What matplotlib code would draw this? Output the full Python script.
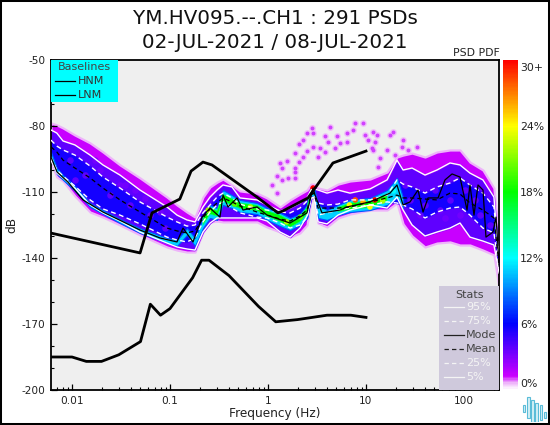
import numpy as np
import matplotlib
matplotlib.use("Agg")
import matplotlib.pyplot as plt
from matplotlib.colors import LinearSegmentedColormap, Normalize
from matplotlib.cm import ScalarMappable
from matplotlib.patches import Rectangle
from matplotlib.lines import Line2D

plt.rcParams["axes.unicode_minus"] = False

title_lines = ["YM.HV095.--.CH1 : 291 PSDs", "02-JUL-2021 / 08-JUL-2021"]
nan = float("nan")

freq = [0.0061,0.0070,0.0081,0.0107,0.0153,0.0207,0.0309,0.0494,0.0932,0.118,0.149,0.180,0.217,0.256,0.302,0.347,0.429,0.518,0.772,0.977,1.33,1.68,2.12,2.50,2.75,2.95,3.24,4.00,5.18,6.87,11.0,16.4,20.7,23.9,29.5,40.0,53.0,72.0,91.0,115,156,202,228]
p95 = [-81.8,-83.2,-86.8,-88.6,-93.2,-97.7,-102.3,-109.1,-116.8,-120.5,-122.7,-123.6,-116.8,-112.3,-109.1,-106.8,-107.7,-112.7,-113.6,-115.9,-118.6,-117.3,-115,-112.7,-109.1,-108.6,-109.1,-110.5,-109.1,-110.5,-108.6,-104.5,-95.5,-100,-99.1,-102.3,-100,-96.8,-97.7,-101.4,-104.5,-112.3,-142.3]
p75 = [-86.4,-89.1,-90.9,-93.2,-98.2,-103.2,-108.2,-114.5,-121.4,-123.6,-125.5,-125,-119.5,-115.9,-112.3,-110.5,-112.7,-115.5,-117.7,-118.2,-119.1,-119.5,-117.3,-114.1,-111.4,-111.4,-115,-115.9,-115.5,-113.6,-113.6,-111.4,-104.5,-106.4,-107.7,-110.5,-107.7,-105.9,-103.6,-106.8,-110.5,-116.8,-140]
mean = [-89.5,-91.8,-95.5,-99.1,-103.6,-108.2,-113.6,-119.1,-126.4,-127.7,-128.6,-127.7,-121.8,-117.7,-115,-112.7,-114.5,-116.4,-119.1,-120.5,-122.3,-123.2,-120.9,-118.2,-111.4,-110.5,-117.3,-117.3,-117.3,-116.8,-114.5,-112.7,-111.4,-112.7,-112.7,-113.2,-113.6,-110.5,-110.9,-115,-118.2,-121.8,-143.2]
p25 = [-94.1,-100,-102.7,-107.3,-113.6,-117.7,-120.5,-124.5,-130.5,-131.8,-132.7,-130.9,-123.6,-119.1,-115.9,-114.5,-117.3,-119.5,-121.4,-121.8,-124.1,-126.4,-125,-121.8,-112.7,-112.3,-120.5,-119.5,-118.2,-117.3,-115.9,-114.5,-115,-115.9,-117.7,-121.8,-119.1,-117.3,-116.8,-120.5,-126.4,-128.6,-144.5]
p5 = [-95.5,-101.4,-103.6,-108.2,-115.9,-119.5,-123.2,-128.2,-133.2,-135,-135.9,-136.4,-128.2,-124.1,-121.8,-121.8,-121.8,-121.8,-121.8,-123.2,-128.2,-130.5,-126.4,-120.9,-112.7,-112.7,-123.6,-124.5,-120.5,-118.2,-115.9,-117.3,-112.3,-118.2,-125,-130,-128.2,-126.4,-124.1,-130.5,-132.3,-134.1,-146.8]

pdf_top = [-78.6,-79.5,-80.9,-84.1,-87.7,-91.8,-97.7,-103.6,-112.3,-115.9,-119.1,-121.4,-112.3,-107.7,-105.5,-104.1,-106.8,-109.5,-110.5,-112.7,-116.8,-113.6,-110.9,-109.1,-106.4,-106.4,-108.2,-109.1,-106.4,-105,-104.1,-100.9,-94.1,-93.2,-92.3,-94.1,-91.8,-90.9,-90.9,-96.4,-100,-108.2,-131.8]
pdf_bottom = [-96.8,-103.2,-105,-111.8,-119.1,-121.4,-125,-129.5,-135,-136.4,-137.3,-137.3,-128.2,-123.6,-123.2,-123.6,-123.6,-123.6,-123.6,-125.9,-128.2,-130.5,-128.6,-125,-113.6,-113.6,-124.1,-125.9,-121.8,-120,-118.2,-118.2,-115,-124.5,-130,-135,-133.2,-132.7,-134.1,-134.1,-136.4,-138.6,-153.6]
ridge12_top = [-91.8,-99.1,-102.3,-107.3,-115,-118.2,-122.3,-126.4,-130.9,-131.8,-126.4,-130.9,-121.8,-115.9,-117.3,-109.1,-111.4,-113.6,-115,-117.3,-119.5,-121.8,-120,-115.9,-107.7,-107.7,-115.9,-118.2,-115.9,-113.6,-112.7,-109.1,-103.6,-112.7]+[nan]*9
ridge12_bottom = [-95.5,-101.8,-104.5,-109.5,-116.8,-120,-124.1,-128.6,-133.2,-134.5,-129.5,-134.5,-126.4,-121.8,-122.7,-115.9,-117.3,-119.1,-120,-122.7,-125.5,-127.3,-125,-121.8,-111.8,-112.3,-121.8,-122.7,-120.5,-119.1,-118.2,-115.9,-112.7,-117.3]+[nan]*9
ridge18_top = [nan]*12+[-122,-117,-118.5,-111,-113,-115,-116,-118.5,-120.5,-123,-121,-117,-108.5,-108.5,nan,nan,-117,-115,-114,-111]+[nan]*11
ridge18_bottom = [nan]*12+[-125,-120,-121,-114,-116,-117.5,-118.5,-121,-123.5,-126,-123.5,-120,-110.5,-111,nan,nan,-119,-118,-117,-114]+[nan]*11

hot_log10f = [.46,.89,.97,.83,1.09,1.17,1.04,-.61,-.18,.19,.33,-.34,1.28]
hot_db = [-108.2,-113.6,-114.5,-115.9,-113.6,-114.1,-116.8,-118.2,-116.8,-123.6,-121.4,-115.5,-109.5]
hot_pct = [30,28,26,24,30,22,24,22,22,22,20,20,12]

patch_log10f = [-2.02,-1.87,-1.71,-1.61,-1.46,-1.41,-1.26,-1.20,-1.10,-1.77,-1.51,-1.36,-1.97,-1.05,1.45,1.60,1.76,1.86,2.01,2.11,2.16,2.27,1.70,1.55,1.96,1.40,1.81]
patch_db = [-95.5,-102.3,-100,-111.4,-106.8,-115.9,-112.7,-120.5,-119.1,-95.5,-106.8,-109.1,-104.5,-126.4,-113.6,-115.9,-118.2,-113.6,-109.1,-113.6,-120.5,-125,-109.1,-120.5,-120.5,-106.8,-121.8]

blob_log10f = [.19,.12,.32,.14,.28,.36,.28,.32,.36,.40,.40,.46,.45,.63,.58,.70,.61,.73,.81,.81,.87,.89,.97,.99,1.07,1.11,1.02,1.09,1.06,.46,.53,.58,.51,.68,.28,.09,.14,.20,.04,.09,.28,1.12,1.28,1.38,1.52,1.21,1.30,1.43,1.07,1.37,1.14,1.24]
blob_db = [-95.9,-96.8,-96.4,-99.1,-99.1,-94.1,-92.3,-88.2,-86.4,-91.4,-83.2,-83.2,-80.9,-80.5,-84.5,-84.5,-87.3,-87.7,-87.3,-83.2,-81.8,-78.6,-78.6,-84.1,-82.7,-84.1,-86.4,-87.3,-90,-89.5,-90,-91.8,-94.1,-90,-100.9,-102.7,-104.5,-103.6,-106.8,-110.5,-103.6,-98.6,-82.7,-86.4,-89.5,-90.9,-93.2,-90.9,-90.9,-89.5,-94.5,-84.1]

mode_log10f = [-2.214,-2.153,-2.041,-1.888,-1.684,-1.306,-1.102,-.929,-.867,-.765,-.673,-.592,-.490,-.459,-.408,-.316,-.255,-.112,-.010,.224,.398,.459,.480,.551,.735,.806,1.041,1.245,1.316,1.378,1.449,1.531,1.582,1.633,1.735,1.806,1.878,1.959,2.031,2.061,2.102,2.143,2.194,2.224,2.296,2.327,2.357]
mode_db = [-94.1,-100.9,-105.5,-113.6,-119.1,-127.3,-130.9,-132.7,-126.4,-132.7,-121.4,-117.3,-121.4,-111.4,-116.8,-112.7,-118.2,-116.8,-120.5,-124.1,-119.5,-108.2,-111.4,-119.5,-118.2,-116.8,-114.5,-110.5,-106.8,-115.9,-114.5,-109.1,-119.1,-112.7,-112.7,-104.5,-101.8,-103.2,-118.2,-106.8,-120.5,-106.8,-109.1,-130.5,-128.2,-121.4,-142.3]

hnm_freq = [0.006,0.0495,0.0655,0.126,0.164,0.217,0.268,0.772,1.26,1.42,2.56,4.6,10]
hnm_db = [-128.6,-137.7,-119.5,-113.2,-100.5,-96.4,-97.7,-112.3,-119.5,-118.6,-112.7,-96.8,-91.4]
lnm_freq = [0.006,0.01,0.014,0.02,0.03,0.05,0.063,0.08,0.1,0.17,0.21,0.25,0.4,0.8,1.2,2,4,7,10]
lnm_db = [-185,-185,-187,-187,-184,-178,-161,-166,-163,-149,-141,-141,-148,-162,-169,-168,-166,-166,-167]

stats_labels = ["95%","75%","Mode","Mean","25%","5%"]
cbar_labels = ["0%","6%","12%","18%","24%","30+"]
cbar_values = [0.6,6,12,18,24,29.4]

cmap = LinearSegmentedColormap.from_list("pqlx", [(0,"#ffffff"),(0.6/30,"#eeb4fa"),(1.2/30,"#cc00ff"),(6/30,"#0000ff"),(12/30,"#00ffff"),(18/30,"#00ff00"),(24/30,"#ffff00"),(1,"#ff0000")])
norm = Normalize(0,30)

fig = plt.figure(figsize=(5.5,4.25),dpi=100,facecolor="white")
W,H = 550,425
def P(x,y):
    return (x/W,1-y/H)
ax = fig.add_axes([51/W,35/H,448/W,330/H],facecolor="#efefef")
ax.set_xscale("log")
ax.set_xlim(10**(-217/98),10**(231/98))
ax.set_ylim(-200,-50)

ax.scatter(10**np.array(blob_log10f),blob_db,s=24,color="#f0c0fa",lw=0,zorder=1)
ax.scatter(10**np.array(blob_log10f),blob_db,s=8,color="#d040ff",lw=0,zorder=1.1)
ax.fill_between(freq,pdf_bottom,pdf_top,facecolor=cmap(norm(1.4)),edgecolor="#eeb4fa",lw=1.6,zorder=1.5)
ax.fill_between(freq,p5,p95,facecolor=cmap(norm(3.8)),lw=1.0,edgecolor=cmap(norm(2.6)),zorder=1.6)
ax.fill_between(freq,p25,p75,facecolor=cmap(norm(5.6)),lw=1.0,edgecolor=cmap(norm(4.8)),zorder=1.7)
ax.scatter(10**np.array(patch_log10f),patch_db,s=22,color=cmap(norm(3.2)),lw=0,alpha=0.75,zorder=1.75)
ax.fill_between(freq,ridge12_bottom,ridge12_top,facecolor=cmap(norm(11)),lw=0.8,edgecolor=cmap(norm(8)),zorder=1.8)
ax.fill_between(freq,ridge18_bottom,ridge18_top,facecolor=cmap(norm(18)),lw=0.5,edgecolor=cmap(norm(15)),zorder=1.9)
ax.scatter(10**np.array(hot_log10f),hot_db,c=hot_pct,cmap=cmap,norm=norm,s=16,lw=0,zorder=2)

ax.plot(freq,p95,color="white",lw=1,zorder=3)
ax.plot(freq,p75,color="white",lw=1,ls=(0,(3.5,2.5)),zorder=3)
ax.plot(freq,p25,color="white",lw=1,ls=(0,(3.5,2.5)),zorder=3)
ax.plot(freq,p5,color="white",lw=1,zorder=3)
ax.plot(freq,mean,color="black",lw=0.9,ls=(0,(3.5,2.5)),zorder=3.1)
ax.plot(10**np.array(mode_log10f),mode_db,color="black",lw=0.9,zorder=3.2)
ax.plot(hnm_freq,hnm_db,color="black",lw=2,zorder=4)
ax.plot(lnm_freq,lnm_db,color="black",lw=2,zorder=4)

ax.set_yticks(np.arange(-200,-49,30))
ax.set_yticks(np.arange(-200,-49,10),minor=True)
ax.set_xticks([0.01,0.1,1,10,100])
ax.set_xticklabels(["0.01","0.1","1","10","100"])
ax.tick_params(axis="both",which="major",direction="in",length=4,width=0.9,labelsize=7.6,pad=4,top=False,right=False,colors="black",labelcolor="#222222")
ax.tick_params(axis="both",which="minor",direction="in",length=2.5,width=0.8,top=False,right=False)
ax.set_xlabel("Frequency (Hz)",fontsize=8.7,color="#222222",va="center")
ax.xaxis.set_label_coords(0.5,-(414-390)/330)
ax.set_ylabel("dB",fontsize=8.7,color="#222222",va="center")
ax.yaxis.set_label_coords(-(51-12)/448,0.5)
for s in ax.spines.values():
    s.set_linewidth(1.3)

fig.add_artist(Rectangle(P(51,102),67/W,42/H,transform=fig.transFigure,facecolor="#00ffff",edgecolor="none",zorder=5))
fig.text(*P(84.5,67),"Baselines",fontsize=8,ha="center",va="center",color="#444444",zorder=6)
for y,lab in zip((81,95),("HNM","LNM")):
    fig.add_artist(Line2D([55/W,75/W],[1-y/H]*2,color="black",lw=0.9,transform=fig.transFigure,zorder=6))
    fig.text(*P(77.5,y),lab,fontsize=8,ha="left",va="center",color="#333333",zorder=6)

fig.add_artist(Rectangle(P(439,390),60/W,104/H,transform=fig.transFigure,facecolor="#cfc9dc",edgecolor="none",zorder=5))
fig.text(*P(469,294.5),"Stats",fontsize=8,ha="center",va="center",color="#444444",zorder=6)
for y,lab in zip((307,321,335,349,363,377),stats_labels):
    dark = lab in ("Mode","Mean")
    col = "#222222" if dark else "#f4f4f4"
    ls = "-" if lab in ("95%","Mode","5%") else (0,(3.5,2.5))
    fig.add_artist(Line2D([443.5/W,463.5/W],[1-y/H]*2,color=col,lw=0.9,ls=ls,transform=fig.transFigure,zorder=6))
    fig.text(*P(466,y),lab,fontsize=8,ha="left",va="center",color="#444444" if dark else "#f4f4f4",zorder=6)

fig.text(*P(500,53),"PSD PDF",fontsize=7.8,ha="right",va="center",color="#222222")

cax = fig.add_axes([503/W,35/H,15/W,330/H])
cb = fig.colorbar(ScalarMappable(norm=norm,cmap=cmap),cax=cax)
cb.outline.set_visible(False)
cb.set_ticks(cbar_values)
cb.set_ticklabels(cbar_labels)
cax.tick_params(length=0,labelsize=7.8,pad=1.5,labelcolor="#222222")

fig.text(*P(275,19),title_lines[0],fontsize=14.3,ha="center",va="center",color="#111111")
fig.text(*P(275,42),title_lines[1],fontsize=14.3,ha="center",va="center",color="#111111")

logo = fig.add_axes([522/W,3/H,26/W,27/H])
logo.axis("off")
logo_x = [2,6.3,10.7,14.7,19,23]
logo_top = [10,2,5,8,10,17]
logo_bottom = [17,23,27,28,25,23]
logo.bar(logo_x,np.array(logo_bottom)-np.array(logo_top),bottom=logo_top,width=2.6,facecolor="#d4f0f6",edgecolor="#5bbcd8",lw=0.8)
logo.set_xlim(0,26)
logo.set_ylim(27,0)

fig.add_artist(Rectangle((0,0),1,1,transform=fig.transFigure,fill=False,edgecolor="black",lw=2.9,zorder=10))
fig.savefig("out.png",dpi=100)
